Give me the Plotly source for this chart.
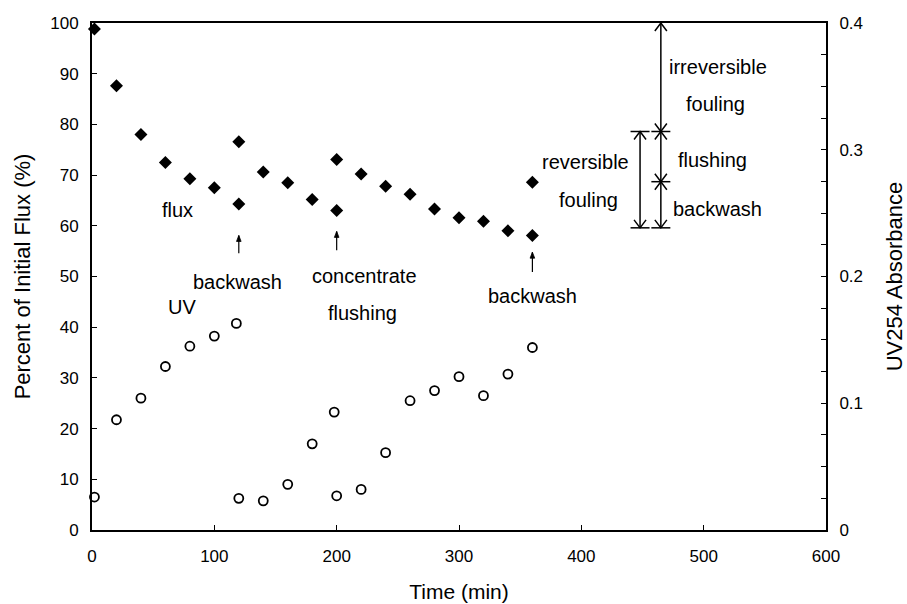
import plotly.graph_objects as go

# Permeate flux (percent of initial) versus filtration time
time_flux = [2, 20, 40, 60, 80, 100, 120, 120, 140, 160, 180, 200, 200,
             220, 240, 260, 280, 300, 320, 340, 360, 360]
flux_pct = [98.8, 87.6, 78.0, 72.5, 69.3, 67.5, 76.6, 64.3, 70.6, 68.5, 65.2,
            73.1, 63.0, 70.2, 67.8, 66.2, 63.3, 61.6, 60.9, 59.0, 58.1, 68.6]

# Permeate UV254 absorbance versus filtration time
time_uv = [2, 20, 40, 60, 80, 100, 118, 120, 140, 160, 180, 198, 200,
           220, 240, 260, 280, 300, 320, 340, 360]
uv254 = [0.026, 0.087, 0.104, 0.129, 0.145, 0.153, 0.163, 0.025, 0.023,
         0.036, 0.068, 0.093, 0.027, 0.032, 0.061, 0.102, 0.110, 0.121,
         0.106, 0.123, 0.144]

x_ticks = [0, 100, 200, 300, 400, 500, 600]
flux_ticks = [0, 10, 20, 30, 40, 50, 60, 70, 80, 90, 100]
uv_ticks = [0, 0.1, 0.2, 0.3, 0.4]

# Flux levels bounding the fouling brackets
level_top = 100.0
level_reversible = 78.6
level_mid = 68.7
level_bottom = 59.6

FONT = "Liberation Sans, Arial, sans-serif"
PX_X = 734 / 600.0   # pixels per minute
PX_Y = 507 / 100.0   # pixels per percent

fig = go.Figure()
fig.add_trace(go.Scatter(
    x=time_flux, y=flux_pct, mode="markers", name="flux",
    marker=dict(symbol="diamond", size=10, color="black",
                line=dict(width=0)),
    cliponaxis=False, showlegend=False))
fig.add_trace(go.Scatter(
    x=time_uv, y=uv254, mode="markers", name="UV", yaxis="y2",
    marker=dict(symbol="circle", size=9, color="white",
                line=dict(width=1.8, color="black")),
    cliponaxis=False, showlegend=False))

shapes = []


def seg(x0, y0, x1, y1, w=1.5):
    shapes.append(dict(type="line", xref="x", yref="y", x0=x0, y0=y0,
                       x1=x1, y1=y1, line=dict(color="black", width=w)))


def chevron(x, y, direction, half_px=6.0, len_px=8.0, w=1.5):
    dx = half_px / PX_X
    dy = len_px / PX_Y * direction
    path = f"M {x - dx},{y - dy} L {x},{y} L {x + dx},{y - dy}"
    shapes.append(dict(type="path", xref="x", yref="y", path=path,
                       line=dict(color="black", width=w)))


def double_arrow(x, y_low, y_high):
    seg(x, y_low, x, y_high)
    chevron(x, y_high, 1)
    chevron(x, y_low, -1)


def cap(x, y, half_px=9.5):
    d = half_px / PX_X
    seg(x - d, y, x + d, y)


def small_arrow(x, y_tail, y_head):
    seg(x, y_tail, x, y_head, w=1.2)
    dx = 2.3 / PX_X
    dy = 6.0 / PX_Y
    path = f"M {x - dx},{y_head - dy} L {x},{y_head} L {x + dx},{y_head - dy} Z"
    shapes.append(dict(type="path", xref="x", yref="y", path=path,
                       fillcolor="black", line=dict(color="black", width=0.8)))


# Event markers
small_arrow(120, 54.6, 58.1)
small_arrow(200, 55.2, 58.9)
small_arrow(360, 50.9, 54.8)

# Reversible fouling bracket
double_arrow(448, level_bottom, level_reversible)
cap(448, level_reversible)
cap(448, level_bottom)

# Irreversible / flushing / backwash brackets
double_arrow(465, level_reversible, level_top)
double_arrow(465, level_mid, level_reversible)
double_arrow(465, level_bottom, level_mid)
cap(465, level_reversible)
cap(465, level_mid)
cap(465, level_bottom)

labels = [
    ("flux", 70, 63.1),
    ("backwash", 119, 49.0),
    ("UV", 73.2, 44.0),
    ("concentrate", 223, 50.1),
    ("flushing", 221.5, 42.8),
    ("backwash", 359.7, 46.2),
    ("reversible", 403, 72.6),
    ("fouling", 405.5, 65.1),
    ("irreversible", 511.7, 91.4),
    ("fouling", 509.8, 84.1),
    ("flushing", 507.6, 73.0),
    ("backwash", 511.7, 63.3),
]
annotations = [
    dict(text=t, x=x, y=y, xref="x", yref="y", showarrow=False,
         xanchor="center", yanchor="middle",
         font=dict(family=FONT, size=20, color="black"))
    for t, x, y in labels
]

axis_common = dict(
    showgrid=False, zeroline=False, showline=True, linecolor="black",
    linewidth=2, ticks="inside", ticklen=5, tickwidth=1, tickcolor="black",
    tickfont=dict(family=FONT, size=17, color="black"), automargin=False,
)

fig.update_layout(
    width=907, height=604,
    margin=dict(l=92, r=81, t=23, b=74),
    paper_bgcolor="white", plot_bgcolor="white",
    shapes=shapes, annotations=annotations,
    xaxis=dict(range=[0, 600], tickvals=x_ticks, mirror=True,
               title=dict(text="Time (min)", standoff=19,
                          font=dict(family=FONT, size=21, color="black")),
               ticklabelstandoff=10, **axis_common),
    yaxis=dict(range=[0, 100], tickvals=flux_ticks,
               title=dict(text="Percent of Initial Flux (%)", standoff=14,
                          font=dict(family=FONT, size=22, color="black")),
               ticklabelstandoff=8, **axis_common),
    yaxis2=dict(range=[0, 0.4], tickvals=uv_ticks, overlaying="y",
                side="right",
                minor=dict(dtick=0.025, ticks="inside", ticklen=5,
                           tickwidth=1, tickcolor="black"),
                title=dict(text="UV254 Absorbance", standoff=32,
                           font=dict(family=FONT, size=22, color="black")),
                ticklabelstandoff=8, **axis_common),
)

fig.write_html("out.html")
